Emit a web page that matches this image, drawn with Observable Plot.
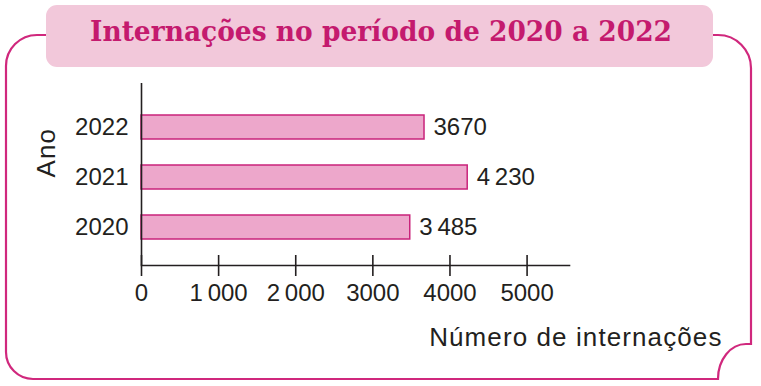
<!DOCTYPE html>
<html>
<head>
<meta charset="utf-8">
<script src="https://cdn.jsdelivr.net/npm/d3@7"></script>
<script src="https://cdn.jsdelivr.net/npm/@observablehq/plot@0.6"></script>
<style>
  html, body { margin: 0; padding: 0; background: #fff; }
  #wrap { position: relative; width: 761px; height: 386px; overflow: hidden; background: #fff; }
  #wrap > svg { position: absolute; left: 0; top: 0; }
</style>
</head>
<body>
<div id="wrap"></div>
<script>
// ---- data ----
const years = ["2022", "2021", "2020"];
const values = [3670, 4230, 3485];
const valueLabels = ["3670", "4\u2009230", "3\u2009485"];
const xTicks = [0, 1000, 2000, 3000, 4000, 5000];
const xTickLabels = ["0", "1\u2009000", "2\u2009000", "3000", "4000", "5000"];
const title = "Internações no período de 2020 a 2022";
const xTitle = "Número de internações";
const yTitle = "Ano";

const data = years.map((y, i) => ({year: y, value: values[i], label: valueLabels[i]}));

const ink = "#231f20";
const chart = Plot.plot({
  width: 761,
  height: 386,
  marginLeft: 141,
  marginRight: 192,
  marginTop: 83,
  marginBottom: 121,
  style: {fontFamily: "'Liberation Sans', Arial, sans-serif", fontSize: "24px", color: ink, background: "transparent", overflow: "visible"},
  x: {domain: [0, 5550]},
  y: {domain: years, paddingInner: 0.53, paddingOuter: 0.55, align: 0.54},
  marks: [
    Plot.barX(data, {x: "value", y: "year", fill: "#eda7cb", stroke: "#c9237b", strokeWidth: 1.5}),
    Plot.ruleX([0], {stroke: ink, strokeWidth: 1.6}),
    Plot.frame({anchor: "bottom", stroke: ink, strokeWidth: 1.6}),
    Plot.axisX(xTicks, {tickSize: 21, dy: -10, tickPadding: 7, strokeWidth: 1.6, fontSize: 24, label: null,
      tickFormat: d => xTickLabels[xTicks.indexOf(d)]}),
    Plot.axisY({tickSize: 0, tickPadding: 13, fontSize: 24, label: null}),
    Plot.text(data, {x: "value", y: "year", text: "label", dx: 9, textAnchor: "start", fontSize: 24, fill: ink}),
    Plot.text([yTitle], {frameAnchor: "left", rotate: -90, dx: -95, dy: 3, fontSize: 26, fill: ink, ariaLabel: "axis-title"}),
    Plot.text([xTitle], {frameAnchor: "bottom-right", textAnchor: "end", lineAnchor: "top", dx: 153, dy: 62, fontSize: 26, fill: ink, ariaLabel: "axis-title"})
  ]
});

// slight tracking on the axis titles, as in the reference
d3.select(chart).selectAll("text")
  .filter(function() { return this.textContent === xTitle || this.textContent === yTitle; })
  .style("letter-spacing", "1.1px");

const wrap = document.getElementById("wrap");
wrap.appendChild(chart);

// ---- decorative frame and title box ----
const ns = "http://www.w3.org/2000/svg";
const deco = document.createElementNS(ns, "svg");
deco.setAttribute("width", 761);
deco.setAttribute("height", 386);
deco.style.pointerEvents = "none";
deco.innerHTML = `
  <path d="M 60 35 H 37 A 31 31 0 0 0 6 66 V 352 A 27 27 0 0 0 33 379 H 718
           A 28 35 0 0 1 746 344 H 751 V 68 A 33 33 0 0 0 718 35 H 700"
        fill="none" stroke="#d0287d" stroke-width="2.2"/>
  <rect x="46" y="5" width="667" height="62" rx="11" fill="#f2c8da"/>
  <text x="381" y="41" text-anchor="middle" textLength="582" lengthAdjust="spacingAndGlyphs"
        font-family="'DejaVu Serif', serif" font-weight="bold" font-size="27" fill="#c41a6e">${title}</text>
`;
wrap.appendChild(deco);
</script>
</body>
</html>
